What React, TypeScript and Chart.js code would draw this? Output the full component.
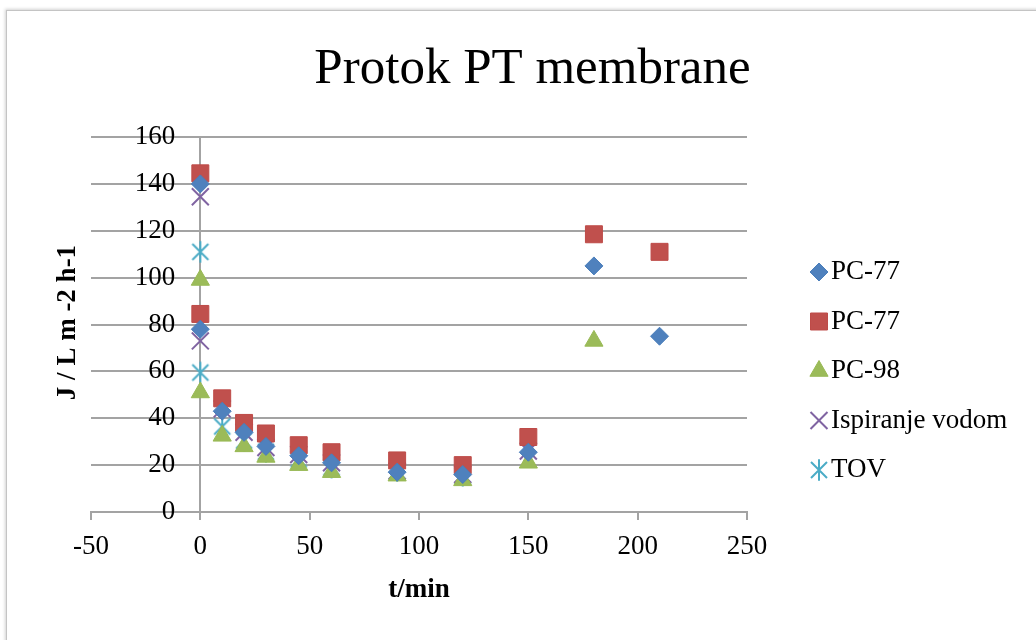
import React, { useEffect, useRef } from 'react';
import { Chart, registerables } from 'chart.js';
import { drawPoint } from 'chart.js/helpers';

Chart.register(...registerables);

// ---- data ----
const timeMin = [0, 0, 10, 20, 30, 45, 60, 90, 120, 150, 180, 210];
const pc77aFlux: (number | null)[] = [140, 78, 43, 34, 28, 24, 21, 17, 16, 25.5, 105, 75];
const pc77bFlux: (number | null)[] = [144.5, 84.5, 48.5, 38, 33.5, 28.5, 25.5, 22, 20, 32, 118.5, 111];
const pc98Flux: (number | null)[] = [99, 51, 32.5, 28, 23.5, 20, 17, 15.5, 13.5, 21, 73, null];
const rinseFlux: (number | null)[] = [134.5, 73, 44, 34, 27.5, 24.5, 21, 17.5, 16, 26, null, null];
const tovFlux: (number | null)[] = [111, 59.5, 36.5, 30.5, 25.7, 22.5, 19, 17.5, 15.5, null, null, null];
const seriesNames = ['PC-77', 'PC-77', 'PC-98', 'Ispiranje vodom', 'TOV'];
const chartTitle = 'Protok PT membrane';
const xAxisTitle = 't/min';
const yAxisTitle = 'J / L m -2 h-1';
const xRange = [-50, 250];
const xStep = 50;
const yRange = [0, 160];
const yStep = 20;

const FONT = "'Liberation Serif', 'Times New Roman', serif";
const GRID = '#a3a3a3';

function toPoints(vals: (number | null)[]) {
  return timeMin
    .map((x, i) => ({ x, y: vals[i] }))
    .filter((p) => p.y !== null) as { x: number; y: number }[];
}

function makeAsterisk(color: string, r: number, d: number, lw: number) {
  const c = document.createElement('canvas');
  const s = 2 * Math.ceil(r + lw);
  c.width = s;
  c.height = s;
  const ctx = c.getContext('2d')!;
  ctx.strokeStyle = color;
  ctx.lineWidth = lw;
  const m = s / 2;
  ctx.beginPath();
  ctx.moveTo(m, m - r);
  ctx.lineTo(m, m + r);
  ctx.moveTo(m - d, m - d);
  ctx.lineTo(m + d, m + d);
  ctx.moveTo(m + d, m - d);
  ctx.lineTo(m - d, m + d);
  ctx.stroke();
  return c;
}

export default function App() {
  const ref = useRef<HTMLCanvasElement>(null);

  useEffect(() => {
    if (!ref.current) return;
    const star = makeAsterisk('#4BACC6', 10.8, 8, 2);
    const styles = [
      { pointStyle: 'rectRot', radius: 9, bg: '#4F81BD', bc: '#4A7EBB', bw: 1 },
      { pointStyle: 'rect', radius: 12, bg: '#C0504D', bc: '#BE4B48', bw: 1 },
      { pointStyle: 'triangle', radius: 10.5, bg: '#9BBB59', bc: '#98B954', bw: 1 },
      { pointStyle: 'crossRot', radius: 12, bg: '#8064A2', bc: '#8064A2', bw: 2 },
      { pointStyle: star as any, radius: 11, bg: '#4BACC6', bc: '#4BACC6', bw: 2 },
    ];
    const values = [pc77aFlux, pc77bFlux, pc98Flux, rinseFlux, tovFlux];

    const datasets = values.map((v, i) => ({
      label: seriesNames[i],
      data: toPoints(v),
      showLine: false,
      pointStyle: styles[i].pointStyle,
      pointRadius: styles[i].radius,
      pointBackgroundColor: styles[i].bg,
      pointBorderColor: styles[i].bc,
      pointBorderWidth: styles[i].bw,
      backgroundColor: styles[i].bg,
      borderColor: styles[i].bc,
    }));

    const extras = {
      id: 'extras',
      beforeDraw(chart: any) {
        // y-axis crosses at x = 0: move its tick labels left of the axis line
        const s = chart.scales.y;
        const items = s.getLabelItems(chart.chartArea);
        if (items && !(items as any).__shifted) {
          items.forEach((it: any) => {
            it.options.translation[0] -= 25;
          });
          (items as any).__shifted = true;
        }
      },
      afterDraw(chart: any) {
        const ctx = chart.ctx as CanvasRenderingContext2D;
        // chart title
        ctx.save();
        ctx.font = `51px ${FONT}`;
        ctx.fillStyle = '#000';
        ctx.textAlign = 'center';
        ctx.textBaseline = 'middle';
        ctx.fillText(chartTitle, 525.5, 58.8);
        ctx.restore();
        // y-axis title
        ctx.save();
        ctx.translate(61.5, 311.5);
        ctx.rotate(-Math.PI / 2);
        ctx.font = `bold 27px ${FONT}`;
        ctx.fillStyle = '#000';
        ctx.textAlign = 'center';
        ctx.textBaseline = 'middle';
        ctx.fillText(yAxisTitle, 0, 0);
        ctx.restore();
        // legend
        const lx = 812;
        const ly0 = 261;
        const dy = 49.5;
        styles.forEach((s, i) => {
          const y = ly0 + i * dy;
          ctx.save();
          ctx.fillStyle = s.bg;
          ctx.strokeStyle = s.bc;
          ctx.lineWidth = s.bw;
          drawPoint(ctx, { pointStyle: s.pointStyle, radius: s.radius, rotation: 0, borderWidth: s.bw } as any, lx, y);
          ctx.restore();
          ctx.save();
          ctx.font = `27px ${FONT}`;
          ctx.fillStyle = '#000';
          ctx.textAlign = 'left';
          ctx.textBaseline = 'middle';
          ctx.fillText(seriesNames[i], 824, y);
          ctx.restore();
        });
      },
    };

    const chart = new Chart(ref.current, {
      type: 'scatter',
      data: { datasets: datasets as any },
      options: {
        responsive: false,
        animation: false,
        layout: { padding: { left: 84, right: 310, top: 126, bottom: 39 } },
        plugins: {
          legend: { display: false },
          tooltip: { enabled: false },
          title: { display: false },
        },
        scales: {
          x: {
            type: 'linear',
            position: 'bottom',
            min: xRange[0],
            max: xRange[1],
            ticks: { stepSize: xStep, color: '#000', font: { family: FONT, size: 27 }, padding: 11, maxRotation: 0, autoSkip: false },
            grid: { drawOnChartArea: false, drawTicks: true, tickLength: 8, color: GRID, lineWidth: 2 },
            border: { display: true, color: GRID, width: 2 },
            title: {
              display: true,
              text: xAxisTitle,
              color: '#000',
              font: { family: FONT, size: 27, weight: 'bold' },
              padding: { top: 0, bottom: 5.5 },
            },
            afterFit: (s: any) => {
              s.height = 100;
            },
          } as any,
          y: {
            type: 'linear',
            position: { x: 0 } as any,
            min: yRange[0],
            max: yRange[1],
            ticks: { stepSize: yStep, color: '#000', font: { family: FONT, size: 27 }, padding: 17 },
            grid: { color: GRID, lineWidth: 2, tickLength: 8 },
            border: { display: true, color: GRID, width: 2 },
          } as any,
        },
      },
      plugins: [extras],
    });
    return () => chart.destroy();
  }, []);

  return (
    <div style={{ position: 'fixed', left: 0, top: 0, width: 1036, height: 640, overflow: 'hidden', background: '#fff' }}>
      <div
        style={{
          position: 'absolute',
          left: 6,
          top: 10,
          width: 1060,
          height: 660,
          borderLeft: '1px solid #c4c4c4',
          borderTop: '1px solid #c4c4c4',
          boxShadow: '-1px -1px 3px rgba(0,0,0,0.18)',
          background: '#fff',
        }}
      >
        <canvas ref={ref} width={1050} height={640} style={{ display: 'block', width: 1050, height: 640 }} />
      </div>
    </div>
  );
}
